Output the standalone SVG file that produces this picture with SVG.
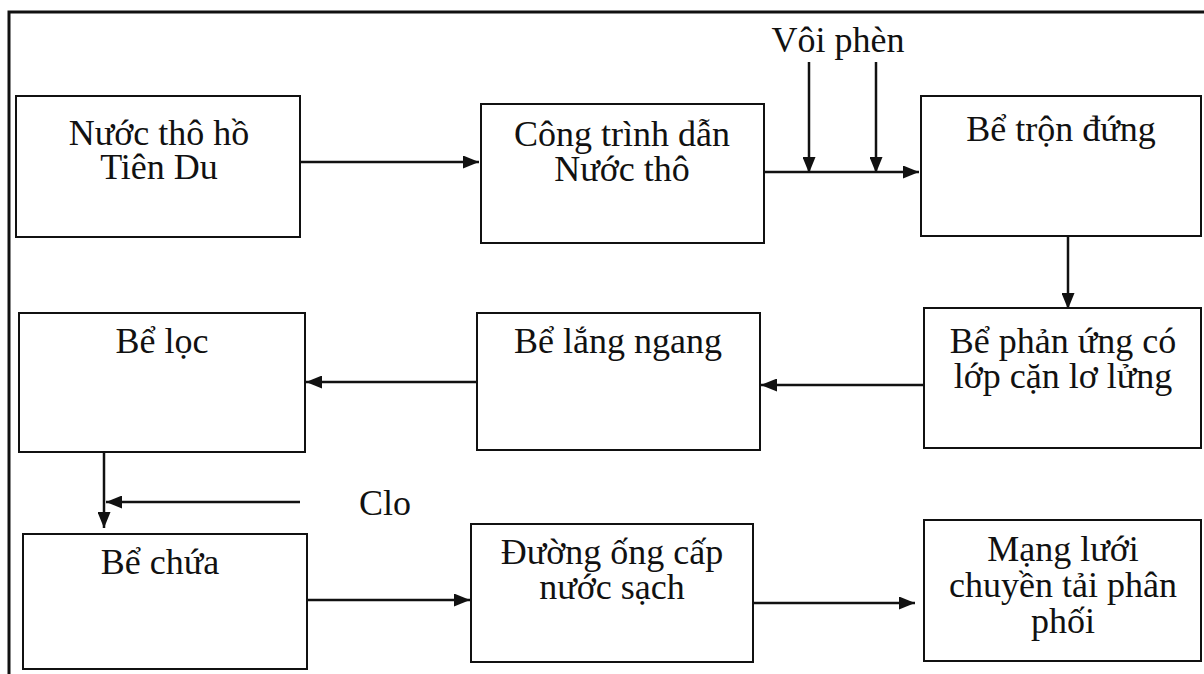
<svg xmlns="http://www.w3.org/2000/svg" width="1204" height="674" viewBox="0 0 1204 674">
<defs>
<marker id="ah" viewBox="0 0 16 13" refX="16" refY="6.5" markerWidth="16" markerHeight="13" markerUnits="userSpaceOnUse" orient="auto">
<path d="M0,0 L16,6.5 L0,13 Z" fill="#111"/>
</marker>
<style>
.box{fill:#fff;stroke:#111;stroke-width:2}
.t{font-family:"Liberation Serif","Times New Roman",serif;font-size:36px;fill:#111;text-anchor:middle}
.c{stroke:#111;stroke-width:2.5;fill:none}
.frame{stroke:#111;stroke-width:3;fill:none}
</style>
</defs>
<rect width="1204" height="674" fill="#fff"/>
<path class="frame" d="M9,674 L9,12 L1204,12"/>
<g id="n1"><rect class="box" x="16" y="96" width="284" height="141"/><text class="t" x="159" y="145">Nước thô hồ</text><text class="t" x="159" y="179">Tiên Du</text></g>
<g id="n2"><rect class="box" x="481" y="104" width="283" height="139"/><text class="t" x="622" y="146">Công trình dẫn</text><text class="t" x="622" y="181">Nước thô</text></g>
<g id="n3"><rect class="box" x="921" y="96" width="280" height="140"/><text class="t" x="1061" y="141">Bể trộn đứng</text></g>
<g id="lbl1"><text class="t" x="838" y="52">Vôi phèn</text></g>
<g id="n6"><rect class="box" x="924" y="308" width="277" height="140"/><text class="t" x="1063" y="353">Bể phản ứng có</text><text class="t" x="1063" y="388">lớp cặn lơ lửng</text></g>
<g id="n5"><rect class="box" x="477" y="313" width="283" height="137"/><text class="t" x="618" y="353">Bể lắng ngang</text></g>
<g id="n4"><rect class="box" x="19" y="313" width="286" height="139"/><text class="t" x="162" y="353">Bể lọc</text></g>
<g id="lbl2"><text class="t" x="385" y="515">Clo</text></g>
<g id="n7"><rect class="box" x="23" y="534" width="284" height="135"/><text class="t" x="160" y="574">Bể chứa</text></g>
<g id="n8"><rect class="box" x="471" y="524" width="282" height="138"/><text class="t" x="612" y="564">Đường ống cấp</text><text class="t" x="612" y="599">nước sạch</text></g>
<g id="n9"><rect class="box" x="924" y="520" width="277" height="141"/><text class="t" x="1063" y="561">Mạng lưới</text><text class="t" x="1063" y="597">chuyền tải phân</text><text class="t" x="1063" y="633">phối</text></g>
<g id="connectors">
<line class="c" x1="300" y1="162" x2="479" y2="162" marker-end="url(#ah)"/>
<line class="c" x1="764" y1="172" x2="919" y2="172" marker-end="url(#ah)"/>
<line class="c" x1="809" y1="62" x2="809" y2="173" marker-end="url(#ah)"/>
<line class="c" x1="876" y1="62" x2="876" y2="173" marker-end="url(#ah)"/>
<line class="c" x1="1068" y1="236" x2="1068" y2="309" marker-end="url(#ah)"/>
<line class="c" x1="924" y1="385" x2="761" y2="385" marker-end="url(#ah)"/>
<line class="c" x1="477" y1="382" x2="306" y2="382" marker-end="url(#ah)"/>
<line class="c" x1="104" y1="452" x2="104" y2="528" marker-end="url(#ah)"/>
<line class="c" x1="300" y1="502" x2="106" y2="502" marker-end="url(#ah)"/>
<line class="c" x1="307" y1="600" x2="470" y2="600" marker-end="url(#ah)"/>
<line class="c" x1="753" y1="603" x2="915" y2="603" marker-end="url(#ah)"/>
</g>
</svg>
